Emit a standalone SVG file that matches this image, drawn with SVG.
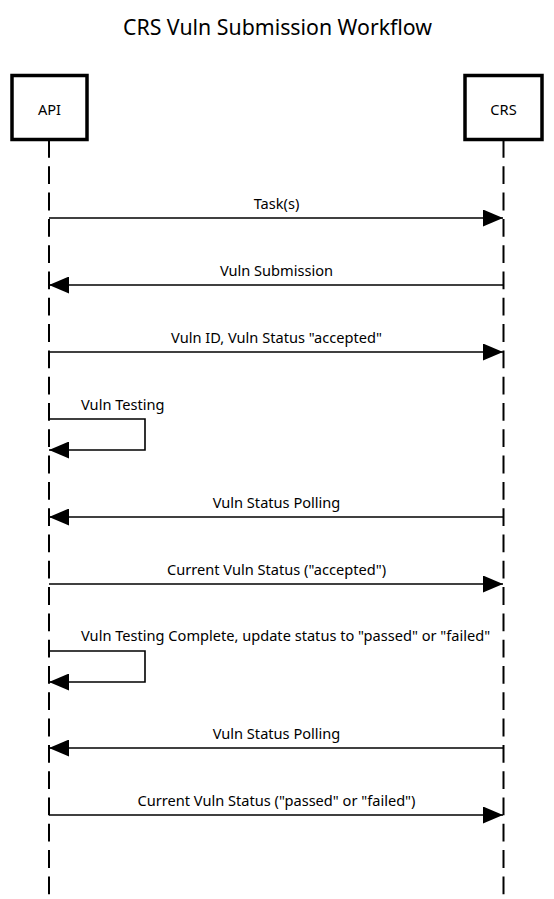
<svg xmlns="http://www.w3.org/2000/svg" width="554" height="899" viewBox="0 0 554 899">
<style>
text{font-family:"Noto Sans","Open Sans","DejaVu Sans",sans-serif;fill:#000}
.title{font-size:21.3px;text-anchor:middle}
.actor rect{fill:#fff;stroke:#000;stroke-width:3.5}
.actor text{font-size:14.6px;text-anchor:middle}
.life{stroke:#000;stroke-width:2;stroke-dasharray:17.8 8.5}
.msg{stroke:#000;stroke-width:1.6;fill:none}
.lbl{font-size:14.6px;text-anchor:middle}
.lbl.left{text-anchor:start}
</style>
<defs>
<marker id="ah" viewBox="0 0 20 17" refX="20" refY="8.5" markerWidth="20" markerHeight="17" markerUnits="userSpaceOnUse" orient="auto">
<path d="M0,0 L20,8.5 L0,17 Z" fill="#000"/>
</marker>
</defs>
<rect width="554" height="899" fill="#fff"/>
<text class="title" x="277.5" y="35">CRS Vuln Submission Workflow</text>
<g id="lifelines">
<line class="life" x1="49" y1="140" x2="49" y2="895"/>
<line class="life" x1="503.5" y1="140" x2="503.5" y2="895"/>
</g>
<g id="api" class="actor">
<rect x="12" y="75.5" width="75" height="64"/>
<text x="49.5" y="115">API</text>
</g>
<g id="crs" class="actor">
<rect x="465" y="75.5" width="77" height="64"/>
<text x="503.5" y="115">CRS</text>
</g>
<g id="connectors">
<line class="msg" x1="49" y1="218" x2="503" y2="218" marker-end="url(#ah)"/>
<line class="msg" x1="503" y1="285" x2="49" y2="285" marker-end="url(#ah)"/>
<line class="msg" x1="49" y1="352" x2="503" y2="352" marker-end="url(#ah)"/>
<path class="msg" d="M49,419 H145 V450 H49" marker-end="url(#ah)"/>
<line class="msg" x1="503" y1="517" x2="49" y2="517" marker-end="url(#ah)"/>
<line class="msg" x1="49" y1="584" x2="503" y2="584" marker-end="url(#ah)"/>
<path class="msg" d="M49,651 H145 V682 H49" marker-end="url(#ah)"/>
<line class="msg" x1="503" y1="748" x2="49" y2="748" marker-end="url(#ah)"/>
<line class="msg" x1="49" y1="815" x2="503" y2="815" marker-end="url(#ah)"/>
</g>
<g id="labels">
<text class="lbl" x="276.5" y="209">Task(s)</text>
<text class="lbl" x="276.5" y="276">Vuln Submission</text>
<text class="lbl" x="276.5" y="343">Vuln ID, Vuln Status "accepted"</text>
<text class="lbl left" x="81" y="410">Vuln Testing</text>
<text class="lbl" x="276.5" y="508">Vuln Status Polling</text>
<text class="lbl" x="276.5" y="575">Current Vuln Status ("accepted")</text>
<text class="lbl left" x="81" y="641">Vuln Testing Complete, update status to "passed" or "failed"</text>
<text class="lbl" x="276.5" y="739">Vuln Status Polling</text>
<text class="lbl" x="276.5" y="806">Current Vuln Status ("passed" or "failed")</text>
</g>
</svg>
